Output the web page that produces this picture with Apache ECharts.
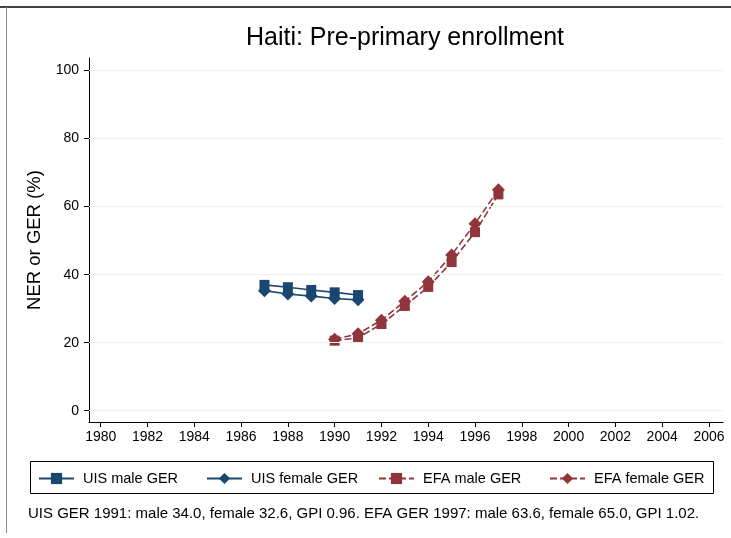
<!DOCTYPE html>
<html>
<head>
<meta charset="utf-8">
<script src="https://cdn.jsdelivr.net/npm/echarts@6/dist/echarts.min.js"></script>
<style>
  html, body { margin: 0; padding: 0; background: #fff; }
  #chart { width: 731px; height: 538px; }
</style>
</head>
<body>
<div id="chart"></div>
<script>
// data
const uisYears = [1987, 1988, 1989, 1990, 1991];
const uisMale = [37.0, 36.3, 35.5, 34.8, 34.0];
const uisFemale = [35.3, 34.3, 33.7, 33.0, 32.6];
const efaYears = [1990, 1991, 1992, 1993, 1994, 1995, 1996, 1997];
const efaMale = [20.6, 21.4, 25.5, 30.8, 36.4, 43.7, 52.5, 63.6];
const efaFemale = [21.0, 22.6, 26.6, 32.2, 37.9, 45.8, 55.0, 65.0];
const xTicks = [1980, 1982, 1984, 1986, 1988, 1990, 1992, 1994, 1996, 1998, 2000, 2002, 2004, 2006];
const yTicks = [0, 20, 40, 60, 80, 100];

const navy = '#1a476f';
const maroon = '#90353b';
const font = '"Liberation Sans", Arial, sans-serif';

function pairs(xs, ys) {
  return xs.map((x, i) => [x, ys[i]]);
}

var myChart = echarts.init(document.getElementById('chart'), null, { renderer: 'canvas' });

function mkSeries(name, xs, ys, color, symbol, size, dashed) {
  return {
    name: name,
    type: 'line',
    data: pairs(xs, ys),
    symbol: symbol,
    symbolSize: size,
    itemStyle: { color: color },
    lineStyle: { color: color, width: 1.6, type: dashed ? [7, 3] : 'solid' },
    z: 3
  };
}

var series = [
  mkSeries('UIS male GER', uisYears, uisMale, navy, 'rect', 10, false),
  mkSeries('UIS female GER', uisYears, uisFemale, navy, 'diamond', 13, false),
  mkSeries('EFA male GER', efaYears, efaMale, maroon, 'rect', 10, true),
  mkSeries('EFA female GER', efaYears, efaFemale, maroon, 'diamond', 13, true)
];
// horizontal grid lines at the y ticks
series.push({
  type: 'line',
  data: [],
  silent: true,
  z: 1,
  markLine: {
    silent: true,
    symbol: 'none',
    label: { show: false },
    lineStyle: { color: '#eaf2f3', width: 1.2, type: 'solid' },
    data: yTicks.map(v => ({ yAxis: v }))
  }
});

function legendAt(left, name) {
  return {
    left: left,
    top: 471,
    padding: 0,
    itemWidth: 35,
    itemHeight: 14,
    data: [name],
    selectedMode: false,
    textStyle: { fontFamily: font, fontSize: 14.5, color: '#000', padding: [0, 0, 0, 4] }
  };
}

var option = {
  backgroundColor: '#fff',
  animation: false,
  title: {
    text: 'Haiti: Pre-primary enrollment',
    left: 405,
    textAlign: 'center',
    top: 26,
    padding: 0,
    textStyle: { fontFamily: font, fontSize: 25, fontWeight: 'normal', color: '#000' }
  },
  grid: { left: 89, right: 8, top: 58, bottom: 116, containLabel: false },
  legend: [
    legendAt(38, 'UIS male GER'),
    legendAt(206, 'UIS female GER'),
    legendAt(378, 'EFA male GER'),
    legendAt(549, 'EFA female GER')
  ],
  xAxis: {
    type: 'value',
    min: 1979.5,
    max: 2006.6,
    axisLine: { show: true, onZero: false, lineStyle: { color: '#000', width: 1 } },
    axisTick: { show: true, length: 5, customValues: xTicks, lineStyle: { color: '#000' } },
    axisLabel: {
      customValues: xTicks,
      formatter: v => String(v),
      fontFamily: font, fontSize: 14, color: '#000', margin: 8
    },
    splitLine: { show: false }
  },
  yAxis: {
    type: 'value',
    min: -3.32,
    max: 103.7,
    name: 'NER or GER (%)',
    nameLocation: 'middle',
    nameGap: 43,
    nameRotate: 90,
    nameTextStyle: { fontFamily: font, fontSize: 18.5, color: '#000' },
    axisLine: { show: true, onZero: false, lineStyle: { color: '#000', width: 1 } },
    axisTick: { show: true, length: 5, customValues: yTicks, lineStyle: { color: '#000' } },
    axisLabel: {
      customValues: yTicks,
      formatter: v => String(v),
      fontFamily: font, fontSize: 14, color: '#000', margin: 10
    },
    splitLine: { show: false }
  },
  graphic: [
    { type: 'line', shape: { x1: 0, y1: 7, x2: 731, y2: 7 }, style: { stroke: '#000', lineWidth: 1.5 } },
    { type: 'line', shape: { x1: 6.5, y1: 7, x2: 6.5, y2: 533 }, style: { stroke: '#888', lineWidth: 1 } },
    { type: 'rect', shape: { x: 30.5, y: 461.5, width: 683, height: 32 }, style: { fill: 'none', stroke: '#000', lineWidth: 1 } },
    {
      type: 'text', left: 28, top: 506,
      style: {
        text: 'UIS GER 1991: male 34.0, female 32.6, GPI 0.96. EFA GER 1997: male 63.6, female 65.0, GPI 1.02.',
        font: '15px ' + font, fill: '#000'
      }
    }
  ],
  series: series
};

myChart.setOption(option);
</script>
</body>
</html>
